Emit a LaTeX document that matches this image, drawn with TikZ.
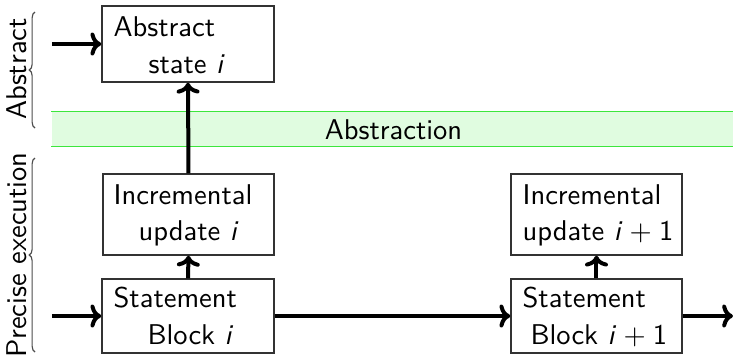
\documentclass[tikz,border=0pt]{standalone}
\usetikzlibrary{fit,arrows.meta,decorations.pathreplacing}
\definecolor{bandfill}{RGB}{224,252,224}
\definecolor{bandline}{RGB}{60,230,60}
\definecolor{boxline}{RGB}{50,50,50}
\begin{document}
\begin{tikzpicture}[x=0.35pt,y=-0.35pt,font=\sffamily,
  box/.style={draw=boxline,line width=0.5pt,inner sep=0pt},
  txt/.style={inner sep=0pt,anchor=base west},
  flow/.style={line width=1.4pt,-{To[length=3.8pt,width=8pt]}},
  bracedeco/.style={decorate,decoration={brace,amplitude=2pt},draw=black!70,line width=0.4pt}]
\useasboundingbox (0,0) rectangle (733,357);
% abstraction band
\node[fill=bandfill,inner sep=0pt,fit={(52,112)(733,146)}] (band) {};
\draw[bandline,line width=0.6pt] (band.north west) -- (band.north east);
\draw[bandline,line width=0.6pt] (band.south west) -- (band.south east);
\node[inner sep=0pt] (bandtxt) at (393.5,130) {Abstraction};
% boxes
\node[box,fit={(102,6)(274,82)}] (abs) {};
\node[box,fit={(103,174)(274,255)}] (inc1) {};
\node[box,fit={(102,279)(274,353)}] (sb1) {};
\node[box,fit={(511,174)(682,255)}] (inc2) {};
\node[box,fit={(511,279)(682,353)}] (sb2) {};
% texts
\node[txt] (absA) at (113,36) {Abstract};
\node[txt] (absB) at (148,73) {state \textsl{i}};
\node[txt] (incA) at (113,204) {Incremental};
\node[txt] (incB) at (138,240) {update \textsl{i}};
\node[txt] (sbA) at (113,307) {Statement};
\node[txt] (sbB) at (147,344) {Block \textsl{i}};
\node[txt] (inc2A) at (522,204) {Incremental};
\node[txt] (inc2B) at (522,240) {update \textsl{i}\hspace{0.25em}+\hspace{0.25em}1};
\node[txt] (sb2A) at (522,307) {Statement};
\node[txt] (sb2B) at (530,344) {Block \textsl{i}\hspace{0.25em}+\hspace{0.25em}1};
% free ends
\coordinate (inA) at (52,44);
\coordinate (inB) at (52,316);
\coordinate (outB) at (733,316);
% connectors
\draw[flow] (inA) -- (abs.west);
\draw[flow] (inB) -- (sb1.west);
\draw[flow] (sb1.east) -- (sb2.west);
\draw[flow] (sb2.east) -- (outB);
\draw[flow] (sb1.north) -- (inc1.south);
\draw[flow] (inc1.north) -- (abs.south);
\draw[flow] (sb2.north) -- (inc2.south);
% braces
\coordinate (brAbot) at (35,128);
\coordinate (brAtop) at (35,12);
\coordinate (brPbot) at (35,352);
\coordinate (brPtop) at (35,158);
\draw[bracedeco] (brAbot) -- (brAtop);
\draw[bracedeco] (brPbot) -- (brPtop);
\node[rotate=90,anchor=base,inner sep=0pt] (labA) at (27,69) {Abstract};
\node[rotate=90,anchor=base,inner sep=0pt] (labP) at (27,255) {Precise execution};
\end{tikzpicture}
\end{document}
